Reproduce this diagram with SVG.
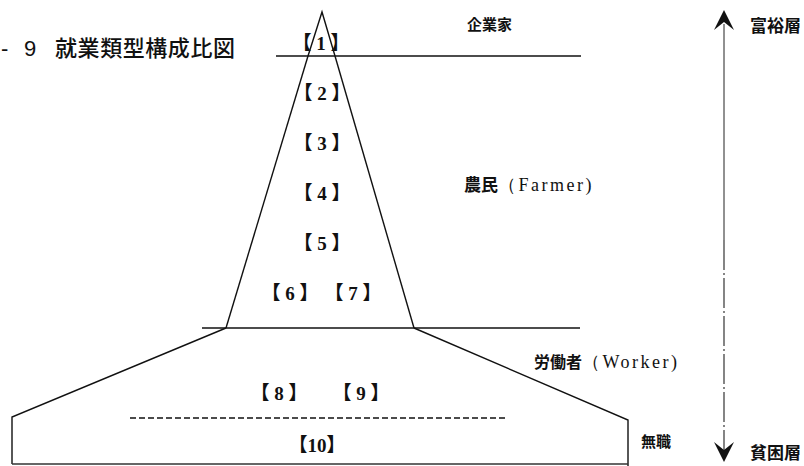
<svg xmlns="http://www.w3.org/2000/svg" width="804" height="466" viewBox="0 0 804 466">
<style>
.ln{fill:none;stroke:#111;stroke-width:1.4}
.lbl{font-family:"Liberation Serif","Noto Sans CJK JP",serif;font-size:19px;fill:#111;text-anchor:middle;font-weight:bold}
.cj{font-family:"Noto Sans CJK JP","Liberation Serif",serif;fill:#111;font-weight:bold}
.lat{font-family:"Liberation Serif",serif;font-weight:normal;font-size:18px;letter-spacing:2.5px}
.ttl{font-family:"Noto Sans CJK JP","Liberation Sans",sans-serif;font-size:22px;fill:#111;font-weight:500}
</style>
<rect width="804" height="466" fill="#fff"/>
<g id="title">
<text class="ttl" y="56"><tspan x="1" font-family="Liberation Sans">-</tspan><tspan x="24" font-family="Liberation Sans">9</tspan><tspan x="55" textLength="180">就業類型構成比図</tspan></text>
</g>
<g id="connectors">
<path class="ln" d="M308,56 L322,12 L335,56"/>
<path class="ln" d="M308,56 L226,328"/>
<path class="ln" d="M335,56 L414,328"/>
<line class="ln" x1="276" y1="56" x2="581" y2="56"/>
<line class="ln" x1="202" y1="328" x2="580" y2="328"/>
<path class="ln" d="M226,328 L12,417 L12,464"/>
<path class="ln" d="M414,328 L628,420 L628,466"/>
<line x1="12" y1="464" x2="628" y2="464" stroke="#333" stroke-width="1.4"/>
<line x1="130" y1="418" x2="507" y2="418" stroke="#111" stroke-width="1.3" stroke-dasharray="6,3"/>
<line x1="724" y1="24" x2="724" y2="240" stroke="#222" stroke-width="1"/>
<line x1="724" y1="240" x2="724" y2="450" stroke="#222" stroke-width="1.1" stroke-dasharray="30,3,2,3"/>
<path d="M724,10 L734,30 L724,22 L714,30 Z" fill="#111"/>
<path d="M724,462 L734,442 L724,450 L714,442 Z" fill="#111"/>
</g>
<g id="n1"><text class="lbl" x="321" y="50">【 1 】</text></g>
<g id="n2"><text class="lbl" x="322" y="100">【 2 】</text></g>
<g id="n3"><text class="lbl" x="322" y="150">【 3 】</text></g>
<g id="n4"><text class="lbl" x="322" y="200">【 4 】</text></g>
<g id="n5"><text class="lbl" x="322" y="250">【 5 】</text></g>
<g id="n6"><text class="lbl" x="290" y="300">【 6 】</text></g>
<g id="n7"><text class="lbl" x="353" y="300">【 7 】</text></g>
<g id="n8"><text class="lbl" x="279" y="400">【 8 】</text></g>
<g id="n9"><text class="lbl" x="361" y="400">【 9 】</text></g>
<g id="n10"><text class="lbl" x="317" y="452">【10】</text></g>
<g id="entrepreneur"><text class="cj" x="467" y="30" font-size="15">企業家</text></g>
<g id="farmer"><text class="cj" x="464" y="191" font-size="17">農民<tspan class="lat">（Farmer)</tspan></text></g>
<g id="worker"><text class="cj" x="534" y="368" font-size="16">労働者<tspan class="lat" letter-spacing="3.5">（Worker)</tspan></text></g>
<g id="jobless"><text class="cj" x="641" y="447" font-size="15">無職</text></g>
<g id="rich"><text class="cj" x="750" y="32" font-size="17">富裕層</text></g>
<g id="poor"><text class="cj" x="750" y="459" font-size="17">貧困層</text></g>
</svg>
